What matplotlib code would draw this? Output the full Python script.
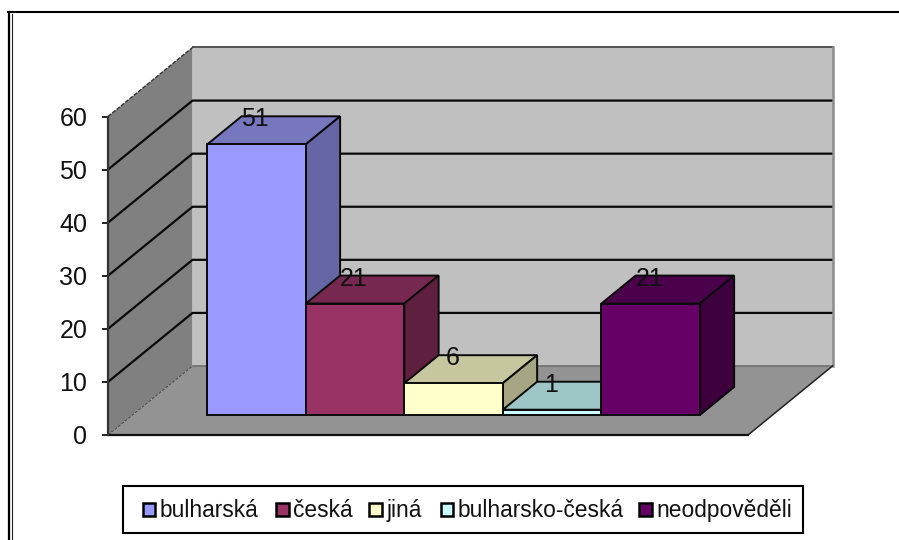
import matplotlib
matplotlib.use("Agg")
import matplotlib.pyplot as plt
from matplotlib.lines import Line2D
from matplotlib.patches import Polygon, Rectangle

plt.rcParams['font.family'] = ['Liberation Sans', 'DejaVu Sans']

# data
categories = ["bulharská", "česká", "jiná", "bulharsko-česká", "neodpověděli"]
values = [51, 21, 6, 1, 21]
yticks = [0, 10, 20, 30, 40, 50, 60]

front_colors = ["#9999FF", "#993366", "#FFFFCC", "#CCFFFF", "#660066"]
top_colors = ["#7777C0", "#772850", "#C6C69F", "#9FC6C6", "#4A004A"]
side_colors = ["#6666A6", "#5F2040", "#A6A685", "#85A6A6", "#3D003D"]

W, H = 899, 540
fig = plt.figure(figsize=(W / 100, H / 100), dpi=100, facecolor="white")

# front plane of the chart: one x unit is one bar wide
ax = fig.add_axes([108 / W, 1 - 435 / H, 640 / W, 318.5 / H])
ax.set_xlim(-0.76, 5.737)
ax.set_ylim(0, 60)
ax.patch.set_visible(False)
for s in ax.spines.values():
    s.set_visible(False)

# oblique projection, depth 0 is the front plane and 1 the back wall
DX = 0.858
DY = 13.0
BAR_D0 = 0.29
BAR_D1 = 0.695


def proj(x, v, d=0.0):
    return (x + d * DX, v + d * DY)


def face(pts, color, edge="none", lw=0.0, z=1):
    ax.add_patch(Polygon(pts, closed=True, facecolor=color, edgecolor=edge,
                         linewidth=lw, clip_on=False, zorder=z, joinstyle="miter"))


x0, x1 = ax.get_xlim()

# walls and floor
face([proj(x0, 0), proj(x0, 60), proj(x0, 60, 1), proj(x0, 0, 1)], "#808080")
face([proj(x0, 0, 1), proj(x0, 60, 1), proj(x1, 60, 1), proj(x1, 0, 1)], "#C0C0C0")
face([proj(x0, 0), proj(x1, 0), proj(x1, 0, 1), proj(x0, 0, 1)], "#939393")

# gridlines on both walls
for t in yticks[1:-1]:
    pts = [proj(x0, t), proj(x0, t, 1), proj(x1, t, 1)]
    ax.plot(*zip(*pts), color="#0A0A0A", lw=1.6, clip_on=False, zorder=2)

# wall outlines
ax.plot(*zip(*[proj(x0, 60, 1), proj(x1, 60, 1)]), color="#555555", lw=1.4, clip_on=False, zorder=2)
ax.plot(*zip(*[proj(x1, 60, 1), proj(x1, 0, 1)]), color="#8C8C8C", lw=1.8, clip_on=False, zorder=2)
ax.plot(*zip(*[proj(x0, 0, 1), proj(x1, 0, 1)]), color="#707070", lw=1.2, clip_on=False, zorder=2)
ax.plot(*zip(*[proj(x0, 60), proj(x0, 60, 1)]), color="#333333", lw=1.0, ls=(0, (3, 1)), clip_on=False, zorder=2)
ax.plot(*zip(*[proj(x0, 0), proj(x0, 0, 1)]), color="#444444", lw=0.7, ls=(0, (3, 1.5)), clip_on=False, zorder=2)
ax.plot(*zip(*[proj(x1, 0), proj(x1, 0, 1)]), color="#222222", lw=1.1, clip_on=False, zorder=2)
ax.plot(*zip(*[proj(x0, 0), proj(x1, 0)]), color="#111111", lw=1.6, clip_on=False, zorder=2)
ax.plot(*zip(*[proj(x0, 0), proj(x0, 60)]), color="#333333", lw=1.6, clip_on=False, zorder=2)

# bars, left to right so the later ones cover the earlier ones
for i, v in enumerate(values):
    z = 3 + i
    l, r = i, i + 1
    face([proj(l, v, BAR_D0), proj(r, v, BAR_D0), proj(r, v, BAR_D1), proj(l, v, BAR_D1)],
         top_colors[i], "#0A0A0A", 1.4, z)
    face([proj(r, 0, BAR_D0), proj(r, 0, BAR_D1), proj(r, v, BAR_D1), proj(r, v, BAR_D0)],
         side_colors[i], "#0A0A0A", 1.4, z)
    face([proj(l, 0, BAR_D0), proj(r, 0, BAR_D0), proj(r, v, BAR_D0), proj(l, v, BAR_D0)],
         front_colors[i], "#0A0A0A", 1.4, z + 0.2)

# data labels sit on the back edge of each bar top
for i, v in enumerate(values):
    lx, ly = proj(i + 0.5, v, BAR_D1)
    ax.text(lx - 0.36, ly - 0.6, str(v), ha="center", va="center", fontsize=18,
            color="#111111", zorder=20, clip_on=False)

# value axis
ax.set_xticks([])
ax.set_yticks(yticks)
ax.tick_params(axis="y", length=4.5, width=1.3, color="#111111", pad=10.5, labelsize=18,
               labelcolor="#111111")

# legend drawn by hand to keep the wide Excel box
lax = fig.add_axes([0, 0, 1, 1], zorder=30)
lax.set_xlim(0, W)
lax.set_ylim(H, 0)
lax.axis("off")
lax.add_patch(Rectangle((123, 486), 680, 47, facecolor="white", edgecolor="black", linewidth=1.5))
swatch_x = [142.5, 276, 369, 440.5, 639]
for name, col, sx in zip(categories, front_colors, swatch_x):
    lax.add_patch(Rectangle((sx, 502.5), 12.5, 13, facecolor=col, edgecolor="black", linewidth=1.8))
    lax.text(sx + 17.5, 510.5, name, ha="left", va="center", fontsize=16.4, color="#111111")

# chart frame, double line on the left
fig.add_artist(Line2D([9 / W, 9 / W], [0, 1 - 12 / H], color="black", lw=1.6))
fig.add_artist(Line2D([11.5 / W, 11.5 / W], [0, 1 - 14 / H], color="#222222", lw=0.8))
fig.add_artist(Line2D([8 / W, 1], [1 - 12 / H, 1 - 12 / H], color="black", lw=1.5))

fig.savefig("out.png", dpi=100)
